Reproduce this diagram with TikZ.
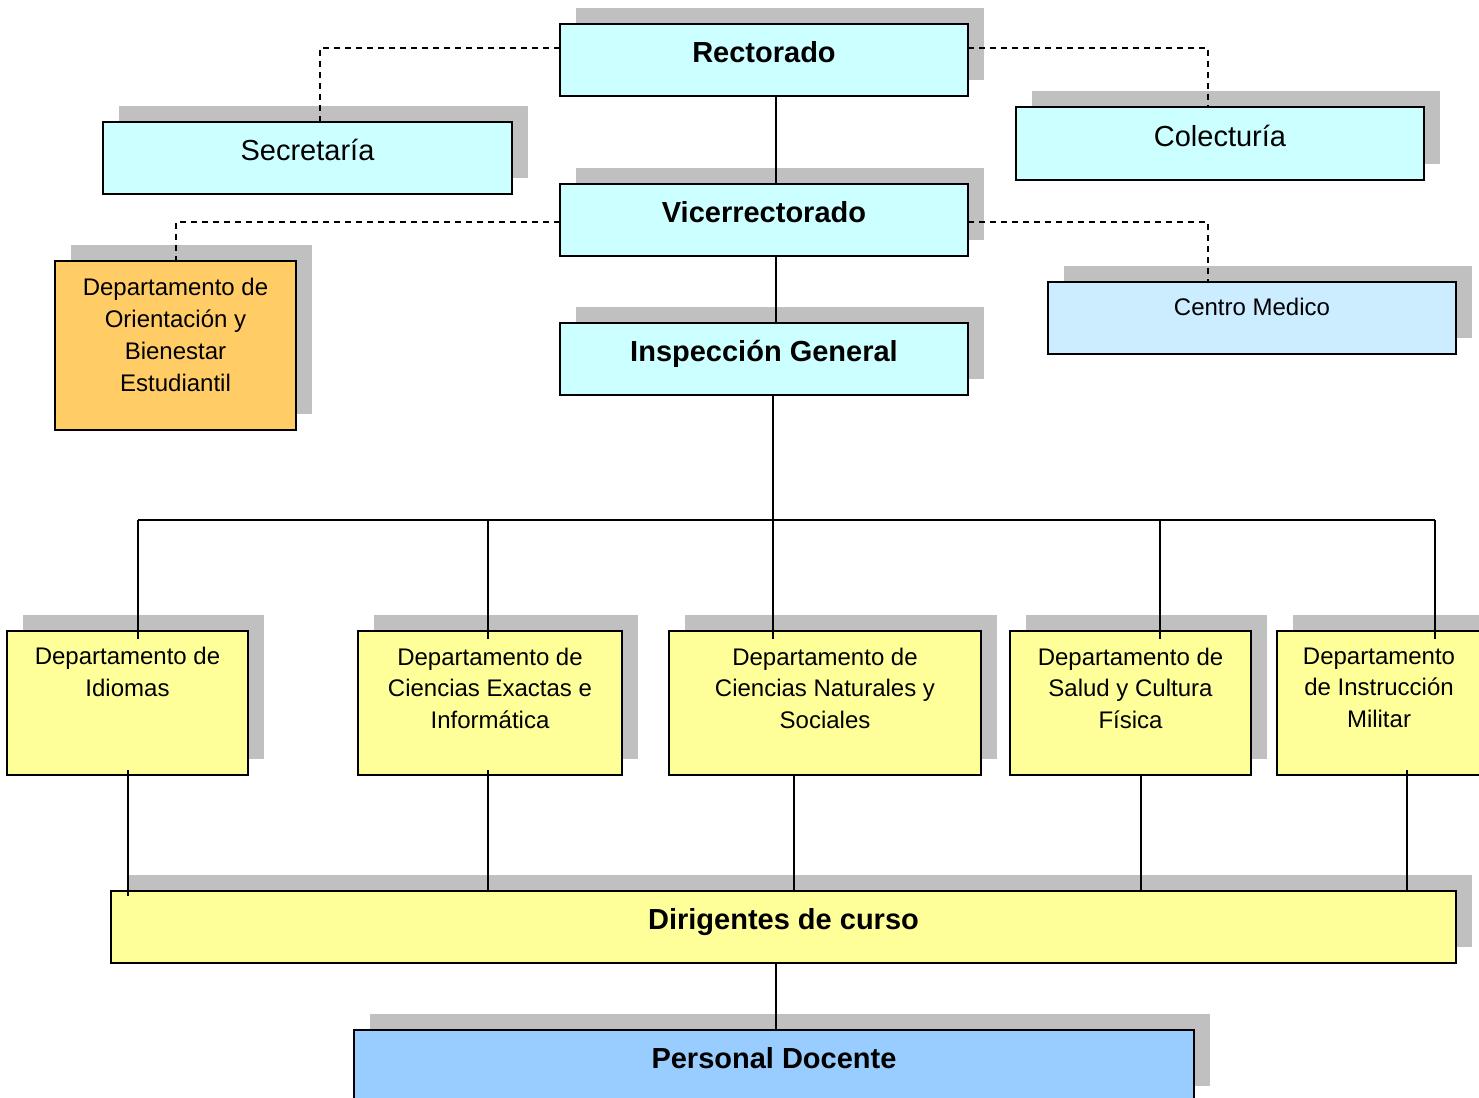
\documentclass[tikz,border=0pt]{standalone}
\usepackage{fontspec}
\setmainfont{Liberation Sans}
\usetikzlibrary{shadows}
\definecolor{cyanbox}{HTML}{CCFFFF}
\definecolor{medbox}{HTML}{CCECFF}
\definecolor{orangebox}{HTML}{FFCC66}
\definecolor{yellowbox}{HTML}{FFFF99}
\definecolor{bluebox}{HTML}{99CCFF}
\definecolor{shadowgray}{HTML}{C0C0C0}
\tikzset{
  orgbox/.style={rectangle, draw=black, line width=2pt, inner sep=0pt, outer sep=0pt,
    general shadow={fill=shadowgray, shadow xshift=16pt, shadow yshift=16pt}},
  titleB/.style={font=\fontsize{29}{34}\selectfont\bfseries, inner sep=0pt, text height=20.8pt, text depth=0pt},
  titleR/.style={font=\fontsize{29}{34}\selectfont, inner sep=0pt, text height=20.8pt, text depth=0pt},
  smallR/.style={font=\fontsize{24}{31.7}\selectfont, inner sep=0pt, text height=17.2pt, text depth=0pt},
  multi/.style={font=\fontsize{24}{31.7}\selectfont, align=center, inner sep=0pt, anchor=north},
  conn/.style={draw=black, line width=1.8pt},
  dashconn/.style={draw=black, line width=1.8pt, dash pattern=on 6pt off 5pt}
}
\begin{document}
\begin{tikzpicture}[x=1pt,y=-1pt]
\useasboundingbox (0,0) rectangle (1479,1097);
\clip (0,0) rectangle (1479,1097);
% boxes
\node[orgbox, fill=cyanbox, minimum width=408pt, minimum height=72pt] (rect) at (764,60) {};
\node[orgbox, fill=cyanbox, minimum width=409pt, minimum height=72pt] (secr) at (307.5,158) {};
\node[orgbox, fill=cyanbox, minimum width=408pt, minimum height=73pt] (cole) at (1220,143.5) {};
\node[orgbox, fill=cyanbox, minimum width=408pt, minimum height=72pt] (vice) at (764,220) {};
\node[orgbox, fill=orangebox, minimum width=241pt, minimum height=169pt] (orie) at (175.5,345.5) {};
\node[orgbox, fill=medbox, minimum width=408pt, minimum height=72pt] (cmed) at (1252,318) {};
\node[orgbox, fill=cyanbox, minimum width=408pt, minimum height=72pt] (insp) at (764,359) {};
\node[orgbox, fill=yellowbox, minimum width=241pt, minimum height=144pt] (idio) at (127.5,703) {};
\node[orgbox, fill=yellowbox, minimum width=264pt, minimum height=144pt] (exac) at (490,703) {};
\node[orgbox, fill=yellowbox, minimum width=312pt, minimum height=144pt] (natu) at (825,703) {};
\node[orgbox, fill=yellowbox, minimum width=241pt, minimum height=144pt] (salu) at (1130.5,703) {};
\node[orgbox, fill=yellowbox, minimum width=204pt, minimum height=144pt] (mili) at (1379,703) {};
\node[orgbox, fill=yellowbox, minimum width=1345pt, minimum height=72pt] (diri) at (783.5,927) {};
\node[orgbox, fill=bluebox, minimum width=840pt, minimum height=72pt] (pers) at (774,1066) {};
% texts
\node[titleB] (rectT) at (764,52) {Rectorado};
\node[titleR] (secrT) at (307.5,150) {Secretaría};
\node[titleR] (coleT) at (1220,136) {Colecturía};
\node[titleB] (viceT) at (764,212) {Vicerrectorado};
\node[titleB] (inspT) at (764,351) {Inspección General};
\node[smallR] (cmedT) at (1252,307) {Centro Medico};
\node[multi] (orieT) at (175.5,278.4) {Departamento de\\Orientación y\\Bienestar\\Estudiantil};
\node[multi] (idioT) at (127.5,647.4) {Departamento de\\Idiomas};
\node[multi] (exacT) at (490,647.4) {Departamento de\\Ciencias Exactas e\\Informática};
\node[multi] (natuT) at (825,647.4) {Departamento de\\Ciencias Naturales y\\Sociales};
\node[multi] (saluT) at (1130.5,647.4) {Departamento de\\Salud y Cultura\\Física};
\node[multi] (miliT) at (1379,647.4) {Departamento\\de Instrucción\\Militar};
\node[titleB] (diriT) at (783.5,919) {Dirigentes de curso};
\node[titleB] (persT) at (774,1058) {Personal Docente};
% solid connectors
\draw[conn] ([xshift=12pt]rect.south) -- ([xshift=12pt]vice.north);
\draw[conn] ([xshift=12pt]vice.south) -- ([xshift=12pt]insp.north);
\draw[conn, shorten >=-8pt] ([xshift=9pt]insp.south) -- ([xshift=-52pt]natu.north);
\coordinate (b1) at (138,520);
\coordinate (b2) at (488,520);
\coordinate (b4) at (1160,520);
\coordinate (b5) at (1435,520);
\draw[conn] (b1) -- (b5);
\draw[conn, shorten >=-8pt] (b1) -- (b1 |- idio.north);
\draw[conn, shorten >=-8pt] (b2) -- (b2 |- exac.north);
\draw[conn, shorten >=-8pt] (b4) -- (b4 |- salu.north);
\draw[conn, shorten >=-8pt] (b5) -- (b5 |- mili.north);
\path ([xshift=0.5pt]idio.south) coordinate (l1);
\path ([xshift=-2pt]exac.south) coordinate (l2);
\path ([xshift=-31pt]natu.south) coordinate (l3);
\path ([xshift=10.5pt]salu.south) coordinate (l4);
\path ([xshift=28pt]mili.south) coordinate (l5);
\draw[conn, shorten <=-5pt, shorten >=-5pt] (l1) -- (l1 |- diri.north);
\draw[conn, shorten <=-5pt] (l2) -- (l2 |- diri.north);
\draw[conn] (l3) -- (l3 |- diri.north);
\draw[conn] (l4) -- (l4 |- diri.north);
\draw[conn, shorten <=-5pt] (l5) -- (l5 |- diri.north);
\draw[conn] ([xshift=-7.5pt]diri.south) -- ([xshift=2pt]pers.north);
% dashed connectors
\draw[dashconn] ([yshift=12pt]rect.west) -| ([xshift=12.5pt]secr.north);
\draw[dashconn] ([yshift=12pt]rect.east) -| ([xshift=-12pt]cole.north);
\draw[dashconn] ([yshift=-2pt]vice.west) -| ([xshift=0.5pt]orie.north);
\draw[dashconn] ([yshift=-2pt]vice.east) -| ([xshift=-44pt]cmed.north);
\end{tikzpicture}
\end{document}
